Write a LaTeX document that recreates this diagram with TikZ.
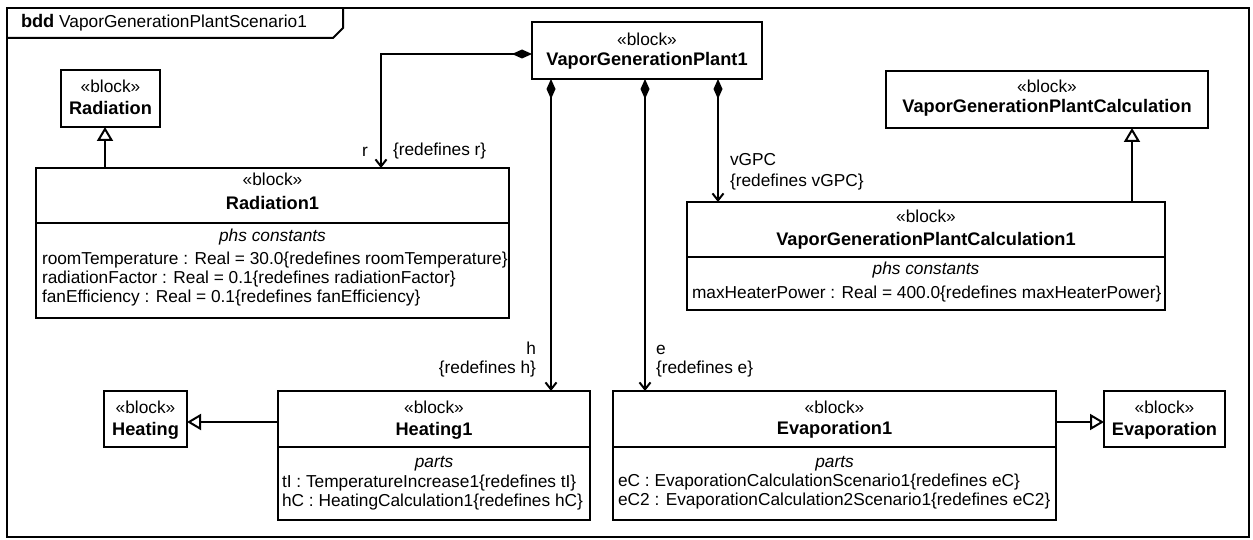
\documentclass[tikz,border=0pt]{standalone}
\usepackage{fontspec}
\setmainfont{Liberation Sans}
\usetikzlibrary{arrows.meta}
\begin{document}
\begin{tikzpicture}[x=1pt,y=-1pt,
  every node/.style={inner sep=0pt, outer sep=0pt},
  blk/.style={draw, line width=2pt, rectangle},
  txt/.style={font=\fontsize{17.3}{20}\selectfont},
  bld/.style={font=\fontsize{18.2}{20}\selectfont\bfseries},
  itl/.style={font=\fontsize{17.3}{20}\selectfont\itshape},
  sep/.style={line width=2pt},
  comp/.style={line width=2pt, {Diamond[length=20pt,width=9pt]}-{Straight Barb[length=7pt,width=11pt]}},
  gen/.style={line width=2pt, -{Triangle[open,length=14pt,width=16pt,fill=white]}},
]
\useasboundingbox (0,0) rectangle (1253,540);

% frame
\draw[sep] (7,8) rectangle (1249,537);
\draw[sep] (7,38) -- (333,38) -- (343,28) -- (343,8);
\node[txt, anchor=base west] (title) at (21,28) {{\fontsize{18.2}{20}\selectfont\bfseries bdd} VaporGenerationPlantScenario1};

% VaporGenerationPlant1
\node[blk, minimum width=230pt, minimum height=57pt] (vgp) at (647,50.5) {};
\node[txt, anchor=base] (vgp-s) at (647,46) {«block»};
\node[bld, anchor=base] (vgp-n) at (647,66) {VaporGenerationPlant1};

% Radiation
\node[blk, minimum width=99pt, minimum height=57pt] (rad) at (110.5,98.5) {};
\node[txt, anchor=base] (rad-s) at (110.5,93) {«block»};
\node[bld, anchor=base] (rad-n) at (110.5,115) {Radiation};

% Radiation1
\node[blk, minimum width=473pt, minimum height=150pt] (rad1) at (272.5,243) {};
\node[txt, anchor=base] (rad1-s) at (272.5,186) {«block»};
\node[bld, anchor=base] (rad1-n) at (272.5,210) {Radiation1};
\draw[sep] (36,223) -- (509,223);
\node[itl, anchor=base] (rad1-c) at (272.5,242) {phs constants};
\node[txt, anchor=base west] (rad1-a) at (42,264) {roomTemperature : Real = 30.0\{redefines roomTemperature\}};
\node[txt, anchor=base west] (rad1-b) at (42,283) {radiationFactor : Real = 0.1\{redefines radiationFactor\}};
\node[txt, anchor=base west] (rad1-d) at (42,302) {fanEfficiency : Real = 0.1\{redefines fanEfficiency\}};

% VaporGenerationPlantCalculation
\node[blk, minimum width=322pt, minimum height=57pt] (vgpc) at (1047,99.5) {};
\node[txt, anchor=base] (vgpc-s) at (1047,93) {«block»};
\node[bld, anchor=base] (vgpc-n) at (1047,113) {VaporGenerationPlantCalculation};

% VaporGenerationPlantCalculation1
\node[blk, minimum width=478pt, minimum height=108pt] (vgpc1) at (926,256) {};
\node[txt, anchor=base] (vgpc1-s) at (926,223) {«block»};
\node[bld, anchor=base] (vgpc1-n) at (926,245) {VaporGenerationPlantCalculation1};
\draw[sep] (687,257) -- (1165,257);
\node[itl, anchor=base] (vgpc1-c) at (926,274) {phs constants};
\node[txt, anchor=base west] (vgpc1-a) at (692,298) {maxHeaterPower : Real = 400.0\{redefines maxHeaterPower\}};

% Heating
\node[blk, minimum width=83pt, minimum height=56pt] (heat) at (145.5,419) {};
\node[txt, anchor=base] (heat-s) at (145.5,413) {«block»};
\node[bld, anchor=base] (heat-n) at (145.5,435) {Heating};

% Heating1
\node[blk, minimum width=312pt, minimum height=129pt] (heat1) at (434,455.5) {};
\node[txt, anchor=base] (heat1-s) at (434,413) {«block»};
\node[bld, anchor=base] (heat1-n) at (434,435) {Heating1};
\draw[sep] (278,447) -- (590,447);
\node[itl, anchor=base] (heat1-c) at (434,467) {parts};
\node[txt, anchor=base west] (heat1-a) at (282,487) {tI : TemperatureIncrease1\{redefines tI\}};
\node[txt, anchor=base west] (heat1-b) at (282,506) {hC : HeatingCalculation1\{redefines hC\}};

% Evaporation1
\node[blk, minimum width=443pt, minimum height=129pt] (evap1) at (834.5,455.5) {};
\node[txt, anchor=base] (evap1-s) at (834.5,413) {«block»};
\node[bld, anchor=base] (evap1-n) at (834.5,434) {Evaporation1};
\draw[sep] (613,447) -- (1056,447);
\node[itl, anchor=base] (evap1-c) at (834.5,467) {parts};
\node[txt, anchor=base west] (evap1-a) at (618,486) {eC : EvaporationCalculationScenario1\{redefines eC\}};
\node[txt, anchor=base west] (evap1-b) at (618,505) {eC2 : EvaporationCalculation2Scenario1\{redefines eC2\}};

% Evaporation
\node[blk, minimum width=121pt, minimum height=56pt] (evap) at (1164.5,419) {};
\node[txt, anchor=base] (evap-s) at (1164.5,413) {«block»};
\node[bld, anchor=base] (evap-n) at (1164.5,435) {Evaporation};

% composition connectors
\coordinate (rs) at ([yshift=-3.5pt]vgp.west);
\coordinate (re) at ([xshift=345pt]rad1.north west);
\draw[comp] (rs) -| (re);
\node[txt, anchor=base east] (r-l) at (368,157) {r};
\node[txt, anchor=base west] (r-c) at (393,156) {\{redefines r\}};

\coordinate (hs) at ([xshift=19pt]vgp.south west);
\draw[comp] (hs) -- (hs |- heat1.north);
\node[txt, anchor=base east] (h-l) at (536,354) {h};
\node[txt, anchor=base east] (h-c) at (536,373) {\{redefines h\}};

\coordinate (es) at ([xshift=113pt]vgp.south west);
\draw[comp] (es) -- (es |- evap1.north);
\node[txt, anchor=base west] (e-l) at (656,354) {e};
\node[txt, anchor=base west] (e-c) at (656,373) {\{redefines e\}};

\coordinate (vs) at ([xshift=186pt]vgp.south west);
\draw[comp] (vs) -- (vs |- vgpc1.north);
\node[txt, anchor=base west] (v-l) at (730,166) {vGPC};
\node[txt, anchor=base west] (v-c) at (730,187) {\{redefines vGPC\}};

% generalizations
\coordinate (g1) at ([xshift=69pt]rad1.north west);
\draw[gen] (g1) -- (g1 |- rad.south);
\coordinate (g2) at ([xshift=445pt]vgpc1.north west);
\draw[gen] (g2) -- (g2 |- vgpc.south);
\coordinate (g3) at ([yshift=-3pt]heat.east);
\draw[gen] (g3 -| heat1.west) -- (g3);
\coordinate (g4) at ([yshift=-3pt]evap.west);
\draw[gen] (g4 -| evap1.east) -- (g4);
\end{tikzpicture}
\end{document}
